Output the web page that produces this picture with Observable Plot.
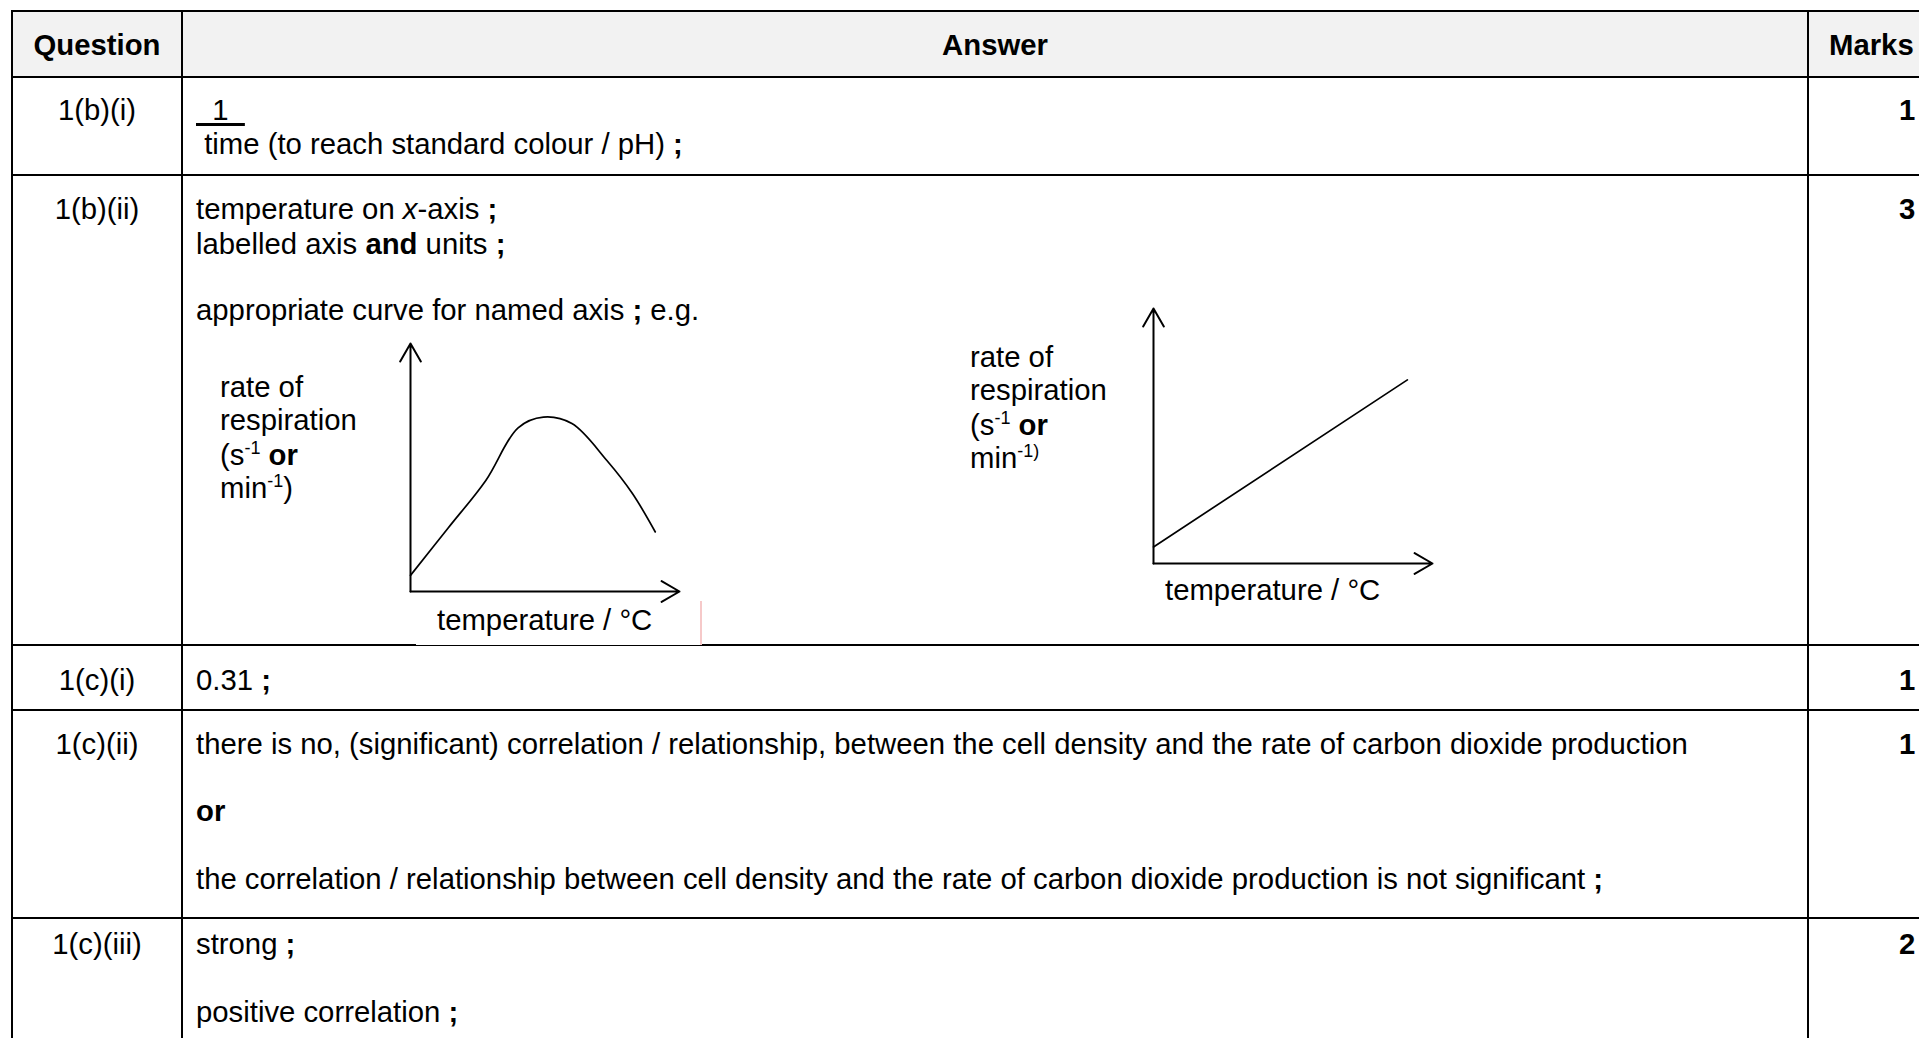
<!DOCTYPE html>
<html><head><meta charset="utf-8">
<script src="https://cdn.jsdelivr.net/npm/d3@7"></script>
<script src="https://cdn.jsdelivr.net/npm/@observablehq/plot@0.6"></script>
<style>
html,body{margin:0;padding:0;background:#fff;overflow:hidden;}
#page{position:relative;width:1919px;height:1038px;overflow:hidden;font-family:"Liberation Sans",Arial,sans-serif;font-size:29.3px;color:#000;background:#fff;}
.t{position:absolute;white-space:pre;line-height:34px;}
.t sup{font-size:18px;vertical-align:baseline;position:relative;top:-11px;line-height:0;}
.t u{text-decoration:underline;text-decoration-thickness:2.5px;text-underline-offset:3px;}
.ln{position:absolute;background:#000;}
.chart{position:absolute;}
</style></head><body><div id="page"></div>
<script>
// ---------- data ----------
const headers = ["Question", "Answer", "Marks"];
const questions = ["1(b)(i)", "1(b)(ii)", "1(c)(i)", "1(c)(ii)", "1(c)(iii)"];
const marks = [1, 3, 1, 1, 2];
const answers = [
  ["<u>  1  </u>", " time (to reach standard colour / pH) <b>;</b>"],
  ["temperature on <i>x</i>-axis <b>;</b>", "labelled axis <b>and</b> units <b>;</b>", "appropriate curve for named axis <b>;</b> e.g."],
  ["0.31 <b>;</b>"],
  ["there is no, (significant) correlation / relationship, between the cell density and the rate of carbon dioxide production",
   "<b>or</b>",
   "the correlation / relationship between cell density and the rate of carbon dioxide production is not significant <b>;</b>"],
  ["strong <b>;</b>", "positive correlation <b>;</b>"]
];
// sketch 1: optimum curve (arbitrary units 0-100)
const curveTemp = [0, 14, 28, 40, 49.4, 60, 73, 82.5, 91];
const curveRate = [6.5, 25.6, 44.8, 66, 70.3, 67.7, 52.8, 39.5, 24];
// sketch 2: straight line
const lineTemp = [0, 91];
const lineRate = [6.5, 72];
const yLabel1 = ["rate of", "respiration", "(s<sup>-1</sup> <b>or</b>", "min<sup>-1</sup>)"];
const yLabel2 = ["rate of", "respiration", "(s<sup>-1</sup> <b>or</b>", "min<sup>-1)</sup>"];
const xLabel = "temperature / °C";

// ---------- layout ----------
const page = document.getElementById("page");
const X = {left: 12, q: 182, m: 1808};
const Y = {top: 11, header: 77, rows: [175, 645, 710, 918]};
const lineY = [[110, 144], [209, 244, 310], [680], [744, 811, 879], [944, 1012]];
const headerY = 45;

function el(cls, css, html) {
  const d = document.createElement("div");
  d.className = cls;
  Object.assign(d.style, css);
  if (html != null) d.innerHTML = html;
  page.appendChild(d);
  return d;
}
function text(html, x, cy, anchor = "start", extra = {}) {
  const css = {top: (cy - 17) + "px", left: x + "px", ...extra};
  if (anchor === "middle") css.transform = "translateX(-50%)";
  return el("t", css, html);
}

// header background
el("ln", {left: X.left + "px", top: Y.top + "px", width: (1919 - X.left) + "px", height: (Y.header - Y.top) + "px", background: "#f2f2f2"});
// horizontal rules
el("ln", {left: X.left + "px", top: (Y.top - 1) + "px", width: (1919 - X.left) + "px", height: "2px"});
[Y.header, ...Y.rows].forEach(y => el("ln", {left: X.left + "px", top: (y - 1.25) + "px", width: (1919 - X.left) + "px", height: "2.5px"}));
// vertical rules
[X.left, X.q, X.m].forEach(x => el("ln", {left: (x - 1) + "px", top: (Y.top - 1) + "px", width: "2px", height: (1038 - Y.top + 1) + "px"}));
// pasted-image artefact under the first sketch
el("ln", {left: "416px", top: "600px", width: "284px", height: (Y.rows[1] - 600) + "px", background: "#fff"});
el("ln", {left: "700px", top: "601px", width: "1.5px", height: (Y.rows[1] - 601) + "px", background: "#f6c9c9"});

// header text
text(headers[0], (X.left + X.q) / 2, headerY, "middle", {fontWeight: "bold"});
text(headers[1], (X.q + X.m) / 2, headerY, "middle", {fontWeight: "bold"});
text(headers[2], 1829, headerY, "start", {fontWeight: "bold"});

// rows
questions.forEach((q, i) => {
  text(q, (X.left + X.q) / 2, lineY[i][0], "middle");
  text(String(marks[i]), 1899, lineY[i][0], "start", {fontWeight: "bold"});
  answers[i].forEach((a, j) => text(a, 196, lineY[i][j]));
});

// ---------- sketches ----------
function sketch(temps, rates, curve, box) {
  const axes = [{x1: 0, y1: 0, x2: 0, y2: 100}, {x1: 0, y1: 0, x2: 100, y2: 0}];
  const pts = temps.map((t, i) => ({t, r: rates[i]}));
  const svg = Plot.plot({
    width: box.w, height: box.h,
    marginLeft: box.ml, marginRight: box.mr, marginTop: box.mt, marginBottom: box.mb,
    x: {domain: [0, 100], axis: null},
    y: {domain: [0, 100], axis: null},
    style: {background: "transparent", overflow: "visible"},
    marks: [
      Plot.arrow(axes, {x1: "x1", y1: "y1", x2: "x2", y2: "y2", stroke: "#000", strokeWidth: 2, headLength: 15.5, headAngle: 60}),
      Plot.line(pts, {x: "t", y: "r", curve, stroke: "#000", strokeWidth: 1.7})
    ]
  });
  const wrap = el("chart", {left: box.x + "px", top: box.y + "px"});
  wrap.appendChild(svg);
}
sketch(curveTemp, curveRate, "catmull-rom", {x: 390, y: 330, w: 310, h: 280, ml: 20, mr: 21, mt: 13, mb: 19});
sketch(lineTemp, lineRate, "linear", {x: 1130, y: 290, w: 320, h: 290, ml: 23, mr: 18, mt: 18, mb: 17});

// sketch labels
[387, 420, 455, 488].forEach((y, i) => text(yLabel1[i], 220, y));
text(xLabel, 437, 620);
[357, 390, 425, 458].forEach((y, i) => text(yLabel2[i], 970, y));
text(xLabel, 1165, 590);
</script></body></html>
